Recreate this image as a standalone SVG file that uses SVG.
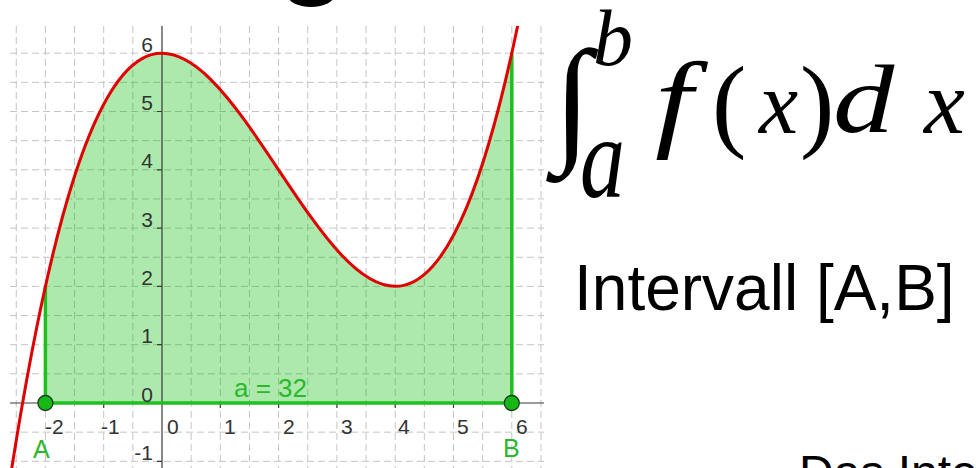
<svg xmlns="http://www.w3.org/2000/svg" width="976" height="468" viewBox="0 0 976 468">
<style>
.grid{fill:none;stroke:#c4c4c4;stroke-width:1;stroke-dasharray:7 4}
.axis{fill:none;stroke:#3a3a3a;stroke-width:1.2}
.num{font-family:"Liberation Sans",Arial,sans-serif;font-size:21px;fill:#333}
.ynum{font-family:"Liberation Sans",Arial,sans-serif;font-size:21px;fill:#333;text-anchor:end}
.glab{font-family:"Liberation Sans",Arial,sans-serif;fill:#2cb82c}
.gline{stroke:#1fbf1f;stroke-width:3.5;fill:none;stroke-linecap:butt}
.pt{fill:#16b816;stroke:#1e3a1e;stroke-width:1.3}
.math{font-family:"Liberation Serif","Times New Roman",serif;fill:#000}
.it{font-style:italic}
.big{font-family:"Liberation Sans",Arial,sans-serif;fill:#000}
</style>
<defs>
<clipPath id="plot"><rect x="10" y="26" width="534" height="442"/></clipPath>
</defs>
<rect width="976" height="468" fill="#fff"/>
<ellipse id="title-fragment" cx="311" cy="-6" rx="24" ry="13" fill="#000"/>
<g id="graph" clip-path="url(#plot)">
<path class="grid" d="M16.25,26V468M45.4,26V468M74.55,26V468M103.7,26V468M132.85,26V468M191.15,26V468M220.3,26V468M249.45,26V468M278.6,26V468M307.75,26V468M336.9,26V468M366.05,26V468M395.2,26V468M424.35,26V468M453.5,26V468M482.65,26V468M511.8,26V468M540.95,26V468M10,461.3H544M10,432.15H544M10,373.85H544M10,344.7H544M10,315.55H544M10,286.4H544M10,257.25H544M10,228.1H544M10,198.95H544M10,169.8H544M10,140.65H544M10,111.5H544M10,82.35H544M10,53.2H544"/>
<g id="area" transform="translate(162,403) scale(58.3,-58.3)">
<path d="M-2,0 L-2,2 C0.6667,14 3.3333,-6 6,6 L6,0 Z" fill="#00bb00" fill-opacity="0.32"/>
</g>
<g id="axes">
<path class="axis" d="M10,403H544M162,26V468"/>
<path class="axis" d="M45.4,403v5M103.7,403v5M220.3,403v5M278.6,403v5M336.9,403v5M395.2,403v5M453.5,403v5M511.8,403v5M157,461.3h5M157,344.7h5M157,286.4h5M157,228.1h5M157,169.8h5M157,111.5h5M157,53.2h5"/>
</g>
<g id="segments">
<path class="gline" d="M45.4,403V286.4M511.8,403V53.2M45.4,403H511.8"/>
</g>
<g id="curve" transform="translate(162,403) scale(58.3,-58.3)">
<path d="M-2.7,-1.9279 C0.3,18.4234 3.3,-8.8129 6.3,7.4884" fill="none" stroke="#e00000" stroke-width="3" vector-effect="non-scaling-stroke"/>
</g>
<g id="xlabels">
<text class="num" x="45" y="434">-2</text>
<text class="num" x="101" y="434">-1</text>
<text class="num" x="167" y="434">0</text>
<text class="num" x="224" y="434">1</text>
<text class="num" x="283" y="434">2</text>
<text class="num" x="341" y="434">3</text>
<text class="num" x="398" y="434">4</text>
<text class="num" x="457" y="434">5</text>
<text class="num" x="516" y="434">6</text>
</g>
<g id="ylabels">
<text class="ynum" x="153" y="459.8">-1</text>
<text class="ynum" x="153" y="401.5">0</text>
<text class="ynum" x="153" y="343.2">1</text>
<text class="ynum" x="153" y="284.9">2</text>
<text class="ynum" x="153" y="226.6">3</text>
<text class="ynum" x="153" y="168.3">4</text>
<text class="ynum" x="153" y="110">5</text>
<text class="ynum" x="153" y="51.7">6</text>
</g>
<g id="pointA">
<circle class="pt" cx="45.4" cy="403" r="7.5"/>
<text class="glab" x="33" y="458" font-size="25">A</text>
</g>
<g id="pointB">
<circle class="pt" cx="511.8" cy="403" r="7.5"/>
<text class="glab" x="503" y="457" font-size="25">B</text>
</g>
<text id="area-label" class="glab" x="234" y="397" font-size="26">a = 32</text>
</g>
<g id="formula">
<text class="math" x="553.6" y="146" font-size="138">∫</text>
<text class="math it" x="593" y="65" font-size="80">b</text>
<text class="math it" transform="translate(580,197) scale(1,1.3)" font-size="90">a</text>
<text class="math it" transform="translate(655,137) scale(1.25,1)" font-size="108">f</text>
<text class="math" x="712" y="138" font-size="103">(</text>
<text class="math it" x="759" y="133" font-size="88">x</text>
<text class="math" x="800" y="138" font-size="103">)</text>
<text class="math it" transform="translate(833,132) scale(1.25,1)" font-size="98">d</text>
<text class="math it" x="924" y="133" font-size="92">x</text>
</g>
<text id="interval" class="big" x="574" y="310" font-size="64">Intervall [A,B]</text>
<text id="bottom-text" class="big" x="799" y="489" font-size="48">Das Inte</text>
</svg>
